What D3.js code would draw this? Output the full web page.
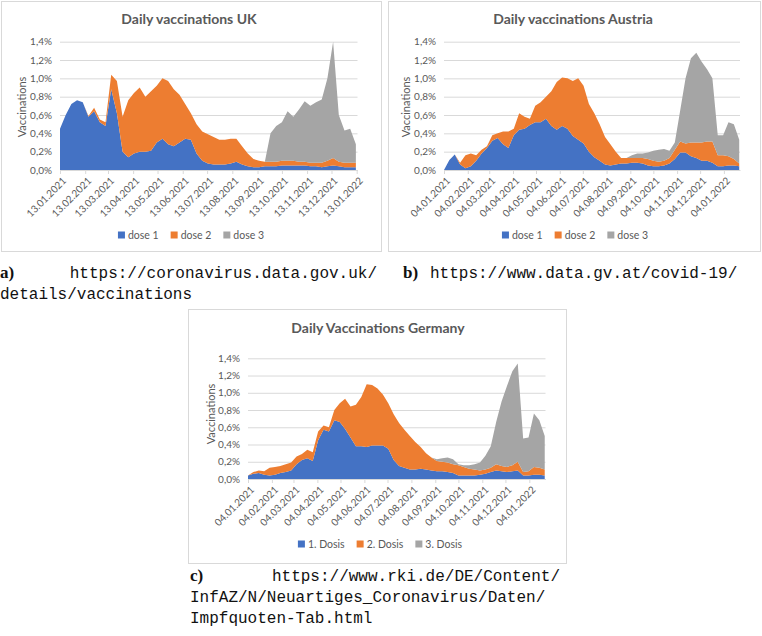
<!DOCTYPE html>
<html>
<head>
<meta charset="utf-8">
<script src="https://cdn.jsdelivr.net/npm/d3@7"></script>
<style>
  body { margin: 0; background: #fff; }
  svg { display: block; }
</style>
</head>
<body>
<svg id="fig" width="762" height="636"></svg>
<script>
// ---- data (percent of population per day, weekly readings) ----
const doseKeys = ["d1", "d2", "d3"];
const doseColors = ["#4472C4", "#ED7D31", "#A5A5A5"];
const yTicks = [0, 0.2, 0.4, 0.6, 0.8, 1.0, 1.2, 1.4];

// UK, weekly from 13.01.2021
const ukStart = "13.01.2021";
const ukEnd = "14.01.2022";
const ukTickLabels = ["13.01.2021", "13.02.2021", "13.03.2021", "13.04.2021", "13.05.2021", "13.06.2021",
  "13.07.2021", "13.08.2021", "13.09.2021", "13.10.2021", "13.11.2021", "13.12.2021", "13.01.2022"];
const ukDose1 = [.45, .60, .72, .76, .74, .58, .64, .52, .48, .88, .62, .20, .14, .18, .20, .20, .21, .30,
  .34, .28, .26, .30, .34, .33, .18, .10, .07, .06, .06, .06, .07, .09, .06, .04, .03, .03, .04, .04,
  .04, .05, .05, .05, .05, .05, .04, .04, .03, .04, .05, .04, .03, .03, .03];
const ukDose2 = [.00, .00, .00, .00, .00, .01, .04, .03, .04, .16, .35, .38, .62, .66, .70, .60, .65, .62,
  .66, .69, .62, .52, .38, .29, .32, .32, .32, .30, .27, .27, .27, .25, .20, .14, .09, .07, .05, .05,
  .05, .05, .05, .05, .04, .04, .04, .04, .05, .06, .08, .05, .05, .05, .05];
const ukDose3 = [0, 0, 0, 0, 0, 0, 0, 0, 0, 0, 0, 0, 0, 0, 0, 0, 0, 0, 0, 0, 0, 0, 0, 0, 0, 0, 0, 0, 0, 0,
  0, 0, 0, 0, 0, 0, 0, .31, .39, .42, .54, .48, .57, .66, .62, .66, .69, .90, 1.27, .51, .35, .37, .20];

// Austria, weekly from 04.01.2021
const atStart = "04.01.2021";
const atEnd = "25.01.2022";
const atTickLabels = ["04.01.2021", "04.02.2021", "04.03.2021", "04.04.2021", "04.05.2021", "04.06.2021",
  "04.07.2021", "04.08.2021", "04.09.2021", "04.10.2021", "04.11.2021", "04.12.2021", "04.01.2022"];
const atDose1 = [.00, .11, .17, .06, .02, .04, .10, .18, .24, .32, .35, .28, .24, .38, .44, .45, .49, .52,
  .52, .56, .48, .44, .48, .45, .37, .33, .29, .20, .14, .10, .06, .05, .06, .07, .07, .08, .08, .07,
  .05, .04, .04, .05, .07, .12, .19, .19, .15, .13, .10, .10, .08, .04, .04, .05, .05, .04];
const atDose2 = [.00, .00, .00, .02, .14, .14, .06, .04, .02, .06, .05, .14, .18, .07, .18, .13, .07, .18,
  .22, .24, .38, .52, .53, .55, .60, .67, .63, .52, .48, .40, .30, .23, .14, .06, .06, .05, .05, .06,
  .07, .06, .05, .05, .06, .10, .12, .10, .15, .17, .20, .21, .23, .12, .12, .10, .07, .03];
const atDose3 = [0, 0, 0, 0, 0, 0, 0, 0, 0, 0, 0, 0, 0, 0, 0, 0, 0, 0, 0, 0, 0, 0, 0, 0, 0, 0, 0, 0, 0, 0,
  0, 0, 0, 0, .00, .03, .05, .05, .07, .11, .13, .13, .08, .08, .34, .71, .92, .98, .88, .79, .69, .22,
  .22, .37, .38, .26];

// Germany, weekly from 04.01.2021
const deStart = "04.01.2021";
const deEnd = "25.01.2022";
const deTickLabels = atTickLabels;
const deDose1 = [.04, .06, .07, .05, .04, .05, .07, .08, .10, .17, .22, .24, .21, .45, .57, .55, .68, .66,
  .58, .48, .38, .38, .37, .39, .39, .39, .35, .22, .15, .13, .11, .11, .12, .11, .10, .09, .09, .08,
  .07, .04, .04, .04, .04, .05, .06, .08, .10, .09, .08, .09, .10, .04, .04, .05, .05, .04];
const deDose2 = [.00, .02, .03, .04, .09, .09, .08, .09, .09, .09, .07, .10, .10, .10, .05, .05, .12, .22,
  .35, .36, .48, .57, .73, .70, .66, .59, .53, .53, .50, .44, .39, .32, .25, .19, .15, .12, .11, .11,
  .10, .12, .10, .08, .07, .05, .05, .05, .07, .06, .06, .07, .10, .04, .05, .09, .08, .07];
const deDose3 = [0, 0, 0, 0, 0, 0, 0, 0, 0, 0, 0, 0, 0, 0, 0, 0, 0, 0, 0, 0, 0, 0, 0, 0, 0, 0, 0, 0, 0, 0,
  0, 0, 0, 0, .00, .02, .04, .06, .06, .01, .02, .04, .06, .09, .16, .25, .49, .75, .94, 1.09, 1.14, .39,
  .39, .62, .55, .39];

const parseDate = d3.utcParse("%d.%m.%Y");
const fmtDate = d3.utcFormat("%d.%m.%Y");
const fmtNum = d3.formatLocale({ decimal: ",", thousands: ".", grouping: [3], currency: ["", ""] }).format(".1f");

const svg = d3.select("#fig");
const labelFont = "Lato, 'Open Sans', sans-serif";
const textGrey = "#595959";

function drawPanel(p, idx) {
    const root = svg.append("g");

    // Chart frame
    root.append("rect")
        .attr("x", p.frame.x + 0.5).attr("y", p.frame.y + 0.5)
        .attr("width", p.frame.w).attr("height", p.frame.h)
        .attr("fill", "#fff")
        .attr("stroke", "#d9d9d9");

    root.append("text")
        .attr("x", p.titleX).attr("y", p.titleY)
        .attr("text-anchor", "middle")
        .attr("font-family", labelFont).attr("font-weight", "bold").attr("font-size", 14)
        .attr("fill", textGrey)
        .text(p.title);

    const x = d3.scaleUtc()
        .domain([parseDate(p.start), parseDate(p.end)])
        .range([p.plot.x0, p.plot.x1]);
    const y = d3.scaleLinear()
        .domain([0, 1.4])
        .range([p.plot.y1, p.plot.y0]);

    // Gridlines + y tick labels
    root.append("g")
        .attr("transform", `translate(${p.plot.x0},0)`)
        .call(d3.axisLeft(y).tickValues(yTicks).tickSize(-(p.plot.x1 - p.plot.x0)).tickPadding(8)
            .tickFormat(d => fmtNum(d) + "%"))
        .call(g => g.select(".domain").remove())
        .call(g => g.selectAll("line").attr("stroke", "#d9d9d9"))
        .call(g => g.selectAll("text").attr("fill", textGrey)
            .attr("font-family", labelFont).attr("font-size", 10));

    // Stacked areas
    const rows = p.dose1.map((v, i) => ({
        date: d3.utcDay.offset(parseDate(p.start), i * 7),
        d1: v, d2: p.dose2[i], d3: p.dose3[i]
    }));
    const series = d3.stack().keys(doseKeys)(rows);

    const area = d3.area()
        .x(d => x(d.data.date))
        .y0(d => y(d[0]))
        .y1(d => y(d[1]));

    root.append("clipPath").attr("id", "clip" + idx)
        .append("rect")
        .attr("x", p.plot.x0).attr("y", p.plot.y0)
        .attr("width", p.plot.x1 - p.plot.x0).attr("height", p.plot.y1 - p.plot.y0);

    root.append("g")
        .attr("clip-path", `url(#clip${idx})`)
        .selectAll("path")
        .data(series)
        .join("path")
        .attr("fill", (d, i) => doseColors[i])
        .attr("d", area);

    // X axis with rotated date labels
    root.append("g")
        .attr("transform", `translate(0,${p.plot.y1})`)
        .call(d3.axisBottom(x).tickValues(p.ticks.map(parseDate)).tickFormat(fmtDate)
            .tickSize(4).tickSizeOuter(0))
        .call(g => g.select(".domain").attr("stroke", "#d9d9d9"))
        .call(g => g.selectAll("line").attr("stroke", "#d9d9d9"))
        .call(g => g.selectAll("text")
            .attr("x", 0).attr("y", 0).attr("dy", "0.35em")
            .attr("text-anchor", "end")
            .attr("transform", "translate(4,9) rotate(-45)")
            .attr("fill", textGrey)
            .attr("font-family", labelFont).attr("font-size", 10));

    // Y axis title
    root.append("text")
        .attr("transform", `translate(${p.yLabelX},${p.yLabelY}) rotate(-90)`)
        .attr("text-anchor", "middle")
        .attr("dy", "0.35em")
        .attr("font-family", labelFont).attr("font-size", 11)
        .attr("fill", textGrey)
        .text("Vaccinations");

    // Legend, centred under the chart
    const legend = root.append("g")
        .attr("font-family", labelFont).attr("font-size", 10.5)
        .attr("fill", textGrey);
    let cursor = 0;
    p.legend.forEach((name, i) => {
        const item = legend.append("g").attr("transform", `translate(${cursor},0)`);
        item.append("rect")
            .attr("x", 0).attr("y", -3.5)
            .attr("width", 7).attr("height", 7)
            .attr("fill", doseColors[i]);
        const t = item.append("text")
            .attr("x", 10).attr("dy", "0.35em")
            .text(name);
        cursor += 10 + t.node().getComputedTextLength() + 12;
    });
    const legendWidth = cursor - 12;
    legend.attr("transform", `translate(${p.legendX - legendWidth / 2},${p.legendY})`);
}

const panels = [
    {
        title: "Daily vaccinations UK", start: ukStart, end: ukEnd, ticks: ukTickLabels,
        dose1: ukDose1, dose2: ukDose2, dose3: ukDose3, legend: ["dose 1", "dose 2", "dose 3"],
        frame: { x: 1, y: 1, w: 380, h: 250 }, titleX: 189, titleY: 24,
        plot: { x0: 60, x1: 357.5, y0: 41.7, y1: 170 },
        yLabelX: 22, yLabelY: 107, legendX: 191, legendY: 235
    },
    {
        title: "Daily vaccinations Austria", start: atStart, end: atEnd, ticks: atTickLabels,
        dose1: atDose1, dose2: atDose2, dose3: atDose3, legend: ["dose 1", "dose 2", "dose 3"],
        frame: { x: 388, y: 1, w: 372, h: 250 }, titleX: 573, titleY: 24,
        plot: { x0: 444, x1: 740, y0: 41.7, y1: 170 },
        yLabelX: 406, yLabelY: 107, legendX: 575, legendY: 235
    },
    {
        title: "Daily Vaccinations Germany", start: deStart, end: deEnd, ticks: deTickLabels,
        dose1: deDose1, dose2: deDose2, dose3: deDose3, legend: ["1. Dosis", "2. Dosis", "3. Dosis"],
        frame: { x: 188, y: 309, w: 378, h: 254 }, titleX: 378, titleY: 333,
        plot: { x0: 248, x1: 545.5, y0: 358.3, y1: 479 },
        yLabelX: 211, yLabelY: 414, legendX: 380, legendY: 544
    }
];
panels.forEach(drawPanel);

// ---- sub-figure captions ----
const mono = "'Liberation Mono', 'DejaVu Sans Mono', monospace";
const serif = "'Liberation Serif', 'DejaVu Serif', serif";
const cap = svg.append("g").attr("font-size", 16).attr("fill", "#111");

function capLabel(x, yy, s) {
    cap.append("text").attr("x", x).attr("y", yy)
        .attr("font-family", serif).attr("font-weight", "bold").attr("font-size", 17)
        .text(s);
}
function capUrl(x, yy, s, anchor) {
    cap.append("text").attr("x", x).attr("y", yy)
        .attr("font-family", mono).attr("text-anchor", anchor || "start")
        .text(s);
}

capLabel(0, 278, "a)");
capUrl(377, 278, "https://coronavirus.data.gov.uk/", "end");
capUrl(0, 299, "details/vaccinations");

capLabel(403, 278, "b)");
capUrl(430, 278, "https://www.data.gv.at/covid-19/");

capLabel(190, 581, "c)");
capUrl(560, 581, "https://www.rki.de/DE/Content/", "end");
capUrl(190, 602, "InfAZ/N/Neuartiges_Coronavirus/Daten/");
capUrl(190, 623, "Impfquoten-Tab.html");
</script>
</body>
</html>
